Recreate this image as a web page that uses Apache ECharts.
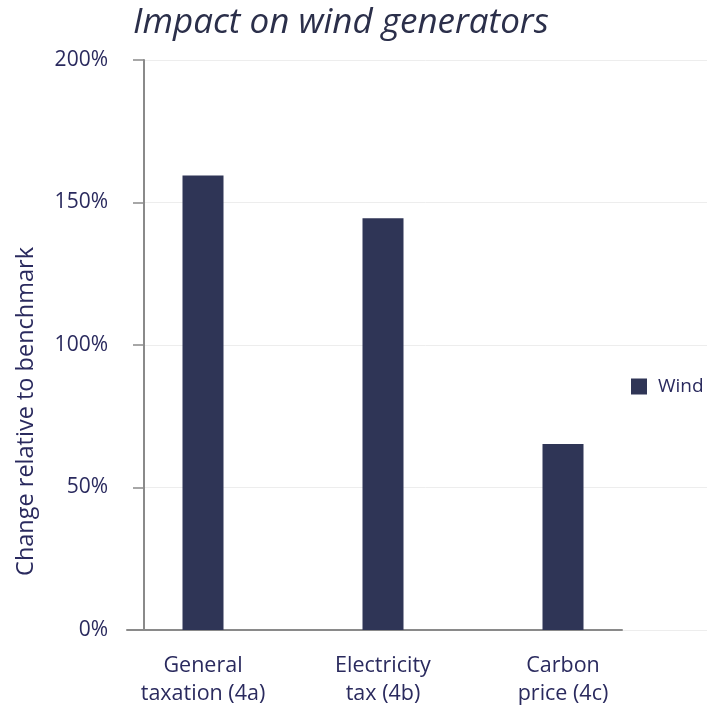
<!DOCTYPE html>
<html>
<head>
<meta charset="utf-8">
<script src="https://cdn.jsdelivr.net/npm/echarts@6/dist/echarts.min.js"></script>
<style>html,body{margin:0;padding:0;background:#fff;}#c{width:707px;height:709px;}</style>
</head>
<body>
<div id="c"></div>
<script>
const categories = ['General\ntaxation (4a)', 'Electricity\ntax (4b)', 'Carbon\nprice (4c)'];
const windValues = [159.5, 144.5, 65.3];
const seriesName = 'Wind';
const yMin = 0, yMax = 200, yInterval = 50;
const titleText = 'Impact on wind generators';
const yAxisTitle = 'Change relative to benchmark';

const textColor = '#2a2a5e';
const font = 'Open Sans';
const chart = echarts.init(document.getElementById('c'), null, {renderer: 'canvas'});
chart.setOption({
  animation: false,
  backgroundColor: '#fff',
  title: {
    text: titleText, left: 128, top: 1,
    textStyle: {fontFamily: font, fontStyle: 'italic', fontWeight: 'normal', fontSize: 35, color: '#2b2f4a'}
  },
  legend: {
    data: [seriesName], orient: 'vertical', left: 626, top: 372,
    icon: 'rect', itemWidth: 16, itemHeight: 16, itemGap: 10,
    textStyle: {fontFamily: font, fontSize: 19, color: textColor, padding: [0, 0, 0, 6]}
  },
  graphic: [{
    type: 'text', left: 14, top: 247, rotation: Math.PI / 2,
    style: {text: yAxisTitle, fontFamily: font, fontSize: 23.5, fill: textColor}
  }],
  grid: [
    {left: 144, right: 0, top: 60, bottom: 79},
    {left: 113, right: 54, top: 60, bottom: 79},
    {left: 127, right: 85, top: 60, bottom: 79}
  ],
  xAxis: [
    {gridIndex: 0, type: 'value', show: false},
    {gridIndex: 1, type: 'category', data: categories,
      axisLine: {show: false}, axisTick: {show: false},
      axisLabel: {margin: 22, fontFamily: font, fontSize: 21.5, lineHeight: 28, color: textColor}},
    {gridIndex: 2, type: 'value', min: 0, max: 1,
      axisLine: {show: true, lineStyle: {color: '#8a8a8a', width: 2}},
      axisTick: {show: false}, axisLabel: {show: false}, splitLine: {show: false}}
  ],
  yAxis: [
    {gridIndex: 0, type: 'value', min: yMin, max: yMax, interval: yInterval,
      axisLine: {show: true, onZero: false, lineStyle: {color: '#8a8a8a', width: 2}},
      axisTick: {show: true, length: 11, lineStyle: {color: '#8a8a8a', width: 1.5}},
      axisLabel: {margin: 36, formatter: '{value}%', fontFamily: font, fontSize: 21, color: textColor},
      splitLine: {show: true, lineStyle: {color: '#ededed', width: 1}}},
    {gridIndex: 1, type: 'value', min: yMin, max: yMax, show: false},
    {gridIndex: 2, type: 'value', min: yMin, max: yMax, show: false}
  ],
  series: [{
    name: seriesName, type: 'bar', xAxisIndex: 1, yAxisIndex: 1,
    data: windValues, barWidth: 41,
    itemStyle: {color: '#2f3556'}
  }]
});
</script>
</body>
</html>
